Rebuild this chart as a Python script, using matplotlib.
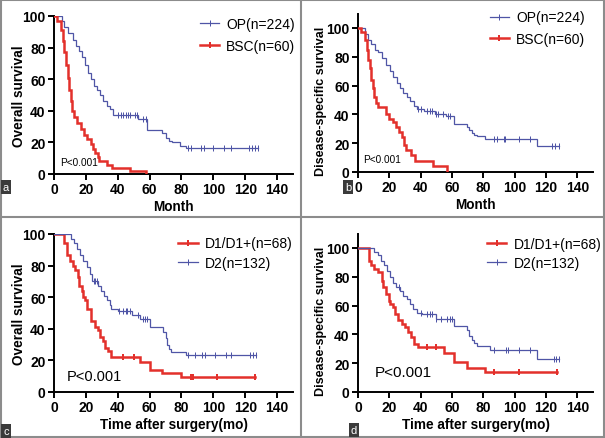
import matplotlib
matplotlib.use("Agg")
import matplotlib.pyplot as plt
import numpy as np
from matplotlib.lines import Line2D

plt.rcParams['font.family'] = ['Liberation Sans', 'DejaVu Sans']

BLUE = '#4f55a6'
RED = '#e3302b'

# Panel a - overall survival, OP vs BSC
a_op_t = [0, 5, 6, 9, 12, 14, 16, 17.5, 19.5, 21.5, 23.5, 25, 27, 29, 31, 33, 35, 37, 53, 58.5, 68, 70, 72, 74, 79, 83]
a_op_s = [100, 97, 93, 89, 85, 81, 78, 74, 69, 64, 60, 56, 53, 50, 46, 43, 41, 37.5, 35, 28, 26, 23, 21, 20, 18, 16.5]
a_op_c = [40, 42, 43.5, 45, 46.5, 48, 51, 52, 56, 58, 84, 86, 92.5, 94, 100, 107, 111, 122.5, 124, 126, 128]
a_bsc_t = [0, 2, 4.5, 5.5, 6.5, 7.5, 8.5, 9.5, 10.5, 11.5, 12.5, 14.5, 17, 19, 21, 23, 24.5, 26, 27.5, 28.5, 33.5, 36.5, 47.5, 57.5]
a_bsc_s = [100, 97, 91, 84, 77, 69, 61, 53, 46, 40, 36, 32, 28.5, 25, 22, 19, 16, 13, 10.5, 8, 6, 4, 2, 0]
a_bsc_c = []

# Panel b - disease-specific survival, OP vs BSC
b_op_t = [0, 4.5, 6.5, 8.5, 11, 13, 15.5, 18, 20.5, 22.5, 25, 27, 29, 31, 33, 35.5, 37.5, 42, 49, 56, 61, 69.5, 71, 72.5, 74, 76, 81, 114]
b_op_s = [100, 96, 92, 89, 85, 83, 79, 74, 70, 66, 62, 58, 55, 52, 49, 46, 44, 42.5, 40.5, 39, 33.5, 31, 29, 27, 26, 25, 23, 18]
b_op_c = [38, 40, 44, 46, 47.5, 49.5, 51, 54, 57.5, 59, 86.5, 88.5, 93, 94, 103, 110, 124, 126, 128]
b_bsc_t = [0, 2, 4.5, 5.5, 6.5, 7.5, 8.5, 9.5, 10.5, 11.5, 13, 18, 19.5, 22.5, 24.5, 26, 28, 29.5, 30.5, 34, 36.5, 48, 57]
b_bsc_s = [100, 97, 92, 85, 78, 72, 64, 58, 52, 48, 45, 40, 37, 35, 31, 28, 24, 19, 15, 11.5, 7.5, 4, 0]
b_bsc_c = []

# Panel c - overall survival, D1/D1+ vs D2
c_d1_t = [0, 6, 8, 10, 12, 13, 15, 16, 17.5, 18.5, 19.5, 20.5, 23.5, 25.5, 27.5, 29, 31, 32, 34, 35.5, 54, 60, 68, 80]
c_d1_s = [100, 94, 87, 83, 80, 77, 73, 67, 64, 60, 58, 52.5, 45, 41, 39, 35, 32.5, 28, 26, 22, 19, 14, 12, 9.5]
c_d1_c = [43, 50, 86, 87, 102, 126]
c_d2_t = [0, 10.5, 12.5, 14.5, 16.5, 18.5, 20.5, 22.5, 24, 27.5, 29.5, 31.5, 33.5, 35, 36, 40, 49, 54, 60, 68.5, 70, 71, 72, 73.5, 83]
c_d2_s = [100, 97, 94, 90.5, 87, 83, 79, 75, 70.5, 67, 64, 61, 58, 55, 52.5, 51, 49, 46.5, 41, 38, 34, 30, 27.5, 25.5, 23.5]
c_d2_c = [25, 26, 27, 41, 43, 45, 46, 48, 53, 56, 57, 58.5, 84, 88.5, 93, 94.5, 101, 108, 111, 123, 125, 127]

# Panel d - disease-specific survival, D1/D1+ vs D2
d_d1_t = [0, 7, 8.5, 10.5, 13, 15, 16, 18, 19.5, 20.5, 22.5, 23.5, 25.5, 28, 30, 32, 34, 36, 38.5, 55, 61, 69.5, 81]
d_d1_s = [100, 91, 88, 85.5, 83, 77, 73, 68, 63.5, 61, 59, 54, 50, 47, 45, 41.5, 38, 33.5, 31, 27, 21, 17, 14]
d_d1_c = [44, 50, 87, 103, 127]
d_d2_t = [0, 10.5, 12.5, 14.5, 16.5, 18.5, 20.5, 22.5, 24.5, 27, 29, 31, 33, 35, 37.5, 41, 50, 61, 69.5, 71, 72.5, 74, 76, 84, 114.5]
d_d2_s = [100, 97, 95, 91, 88, 84, 80, 76, 73, 70, 67, 64.5, 61, 57.5, 55, 54, 51, 46, 43, 39, 36, 34, 32, 29.5, 23]
d_d2_c = [26, 40, 44, 46, 47, 50, 53, 57, 58.5, 60, 87, 94.5, 95.5, 102.5, 109.5, 125, 126.5, 128]

x_ticks = [0, 20, 40, 60, 80, 100, 120, 140]
y_ticks = [0, 20, 40, 60, 80, 100]


def km(ax, t, s, cens, color, lw):
    end = max([t[-1]] + list(cens))
    ax.step(list(t) + [end], list(s) + [s[-1]], where='post', color=color, lw=lw,
            solid_joinstyle='miter', zorder=3)
    if cens:
        idx = np.searchsorted(t, cens, side='right') - 1
        ax.plot(cens, np.array(s)[idx], ls='none', marker='|', ms=4.5,
                mew=lw * 0.8, color=color, zorder=3)


def style(ax, ytop, xlabel, ylabel, ylab_size, ylab_x):
    ax.set_xlim(0, 150)
    ax.set_ylim(0, ytop)
    ax.set_xticks(x_ticks)
    ax.set_yticks(y_ticks)
    for sp in ['top', 'right']:
        ax.spines[sp].set_visible(False)
    for sp in ['left', 'bottom']:
        ax.spines[sp].set_linewidth(1.4)
    ax.tick_params(direction='out', length=4, width=1.4, labelsize=10, pad=2)
    for lab in ax.get_xticklabels() + ax.get_yticklabels():
        lab.set_fontweight('bold')
    ax.set_xlabel(xlabel, fontsize=9.8, fontweight='bold', labelpad=2)
    ax.set_ylabel(ylabel, fontsize=ylab_size, fontweight='bold')
    ax.yaxis.set_label_coords(ylab_x, 0.5 * 100 / ytop)


def legend(ax, items, x, y, spacing):
    handles = [Line2D([], [], color=c, lw=lw, marker='|', ms=5, mew=lw * 0.8) for c, lw, _ in items]
    ax.legend(handles, [lab for _, _, lab in items], loc='upper left', bbox_to_anchor=(x, y),
              frameon=False, fontsize=10, handlelength=1.4, handletextpad=0.5,
              labelspacing=spacing, borderpad=0, borderaxespad=0, numpoints=1)


W, H = 605, 439
fig = plt.figure(figsize=(W / 100, H / 100), dpi=100)


def px_axes(x0, y0, x1, y1):
    return fig.add_axes([x0 / W, 1 - y1 / H, (x1 - x0) / W, (y1 - y0) / H])


ax_a = px_axes(54, 17, 293, 175)
ax_b = px_axes(358, 14.6, 593, 173)
ax_c = px_axes(54, 235, 293, 393)
ax_d = px_axes(358, 234.6, 593, 393)

km(ax_a, a_op_t, a_op_s, a_op_c, BLUE, 0.9)
km(ax_a, a_bsc_t, a_bsc_s, a_bsc_c, RED, 1.8)
style(ax_a, 100, 'Month', 'Overall survival', 9.8, -0.117)
legend(ax_a, [(BLUE, 0.9, 'OP(n=224)'), (RED, 1.8, 'BSC(n=60)')], 0.61, 0.995, 0.6)
ax_a.text(3.8, 7.6, 'P<0.001', fontsize=7.2, va='center', ha='left')

km(ax_b, b_op_t, b_op_s, b_op_c, BLUE, 0.9)
km(ax_b, b_bsc_t, b_bsc_s, b_bsc_c, RED, 1.8)
style(ax_b, 110, 'Month', 'Disease-specific survival', 9.0, -0.132)
legend(ax_b, [(BLUE, 0.9, 'OP(n=224)'), (RED, 1.8, 'BSC(n=60)')], 0.56, 1.02, 0.55)
ax_b.text(3.2, 9, 'P<0.001', fontsize=7.2, va='center', ha='left')

km(ax_c, c_d1_t, c_d1_s, c_d1_c, RED, 1.8)
km(ax_c, c_d2_t, c_d2_s, c_d2_c, BLUE, 0.9)
style(ax_c, 100, 'Time after surgery(mo)', 'Overall survival', 9.8, -0.117)
legend(ax_c, [(RED, 1.8, 'D1/D1+(n=68)'), (BLUE, 0.9, 'D2(n=132)')], 0.52, 0.985, 0.4)
ax_c.text(8.2, 10, 'P<0.001', fontsize=10.5, va='center', ha='left')

km(ax_d, d_d1_t, d_d1_s, d_d1_c, RED, 1.8)
km(ax_d, d_d2_t, d_d2_s, d_d2_c, BLUE, 0.9)
style(ax_d, 110, 'Time after surgery(mo)', 'Disease-specific survival', 9.0, -0.132)
legend(ax_d, [(RED, 1.8, 'D1/D1+(n=68)'), (BLUE, 0.9, 'D2(n=132)')], 0.549, 0.98, 0.4)
ax_d.text(10.9, 14, 'P<0.001', fontsize=11, va='center', ha='left')

# grey frame and panel dividers
frame = '#8c8c8c'
for xs, ys in [([0, 1], [0.998, 0.998]), ([0, 1], [0.002, 0.002]),
               ([0.0015, 0.0015], [0, 1]), ([0.998, 0.998], [0, 1]),
               ([301 / W, 301 / W], [0, 1]), ([0, 1], [1 - 218 / H, 1 - 218 / H])]:
    fig.add_artist(Line2D(xs, ys, color=frame, lw=1.5, transform=fig.transFigure))

# panel letters
for lab, x, y in [('a', 6, 188), ('b', 348, 188), ('c', 6, 432), ('d', 354, 431)]:
    fig.text(x / W, 1 - y / H, lab, color='white', fontsize=8, ha='center', va='center',
             bbox=dict(boxstyle='square,pad=0.2', facecolor='#3b3b3b', edgecolor='none'))

fig.savefig('out.png', dpi=100)
